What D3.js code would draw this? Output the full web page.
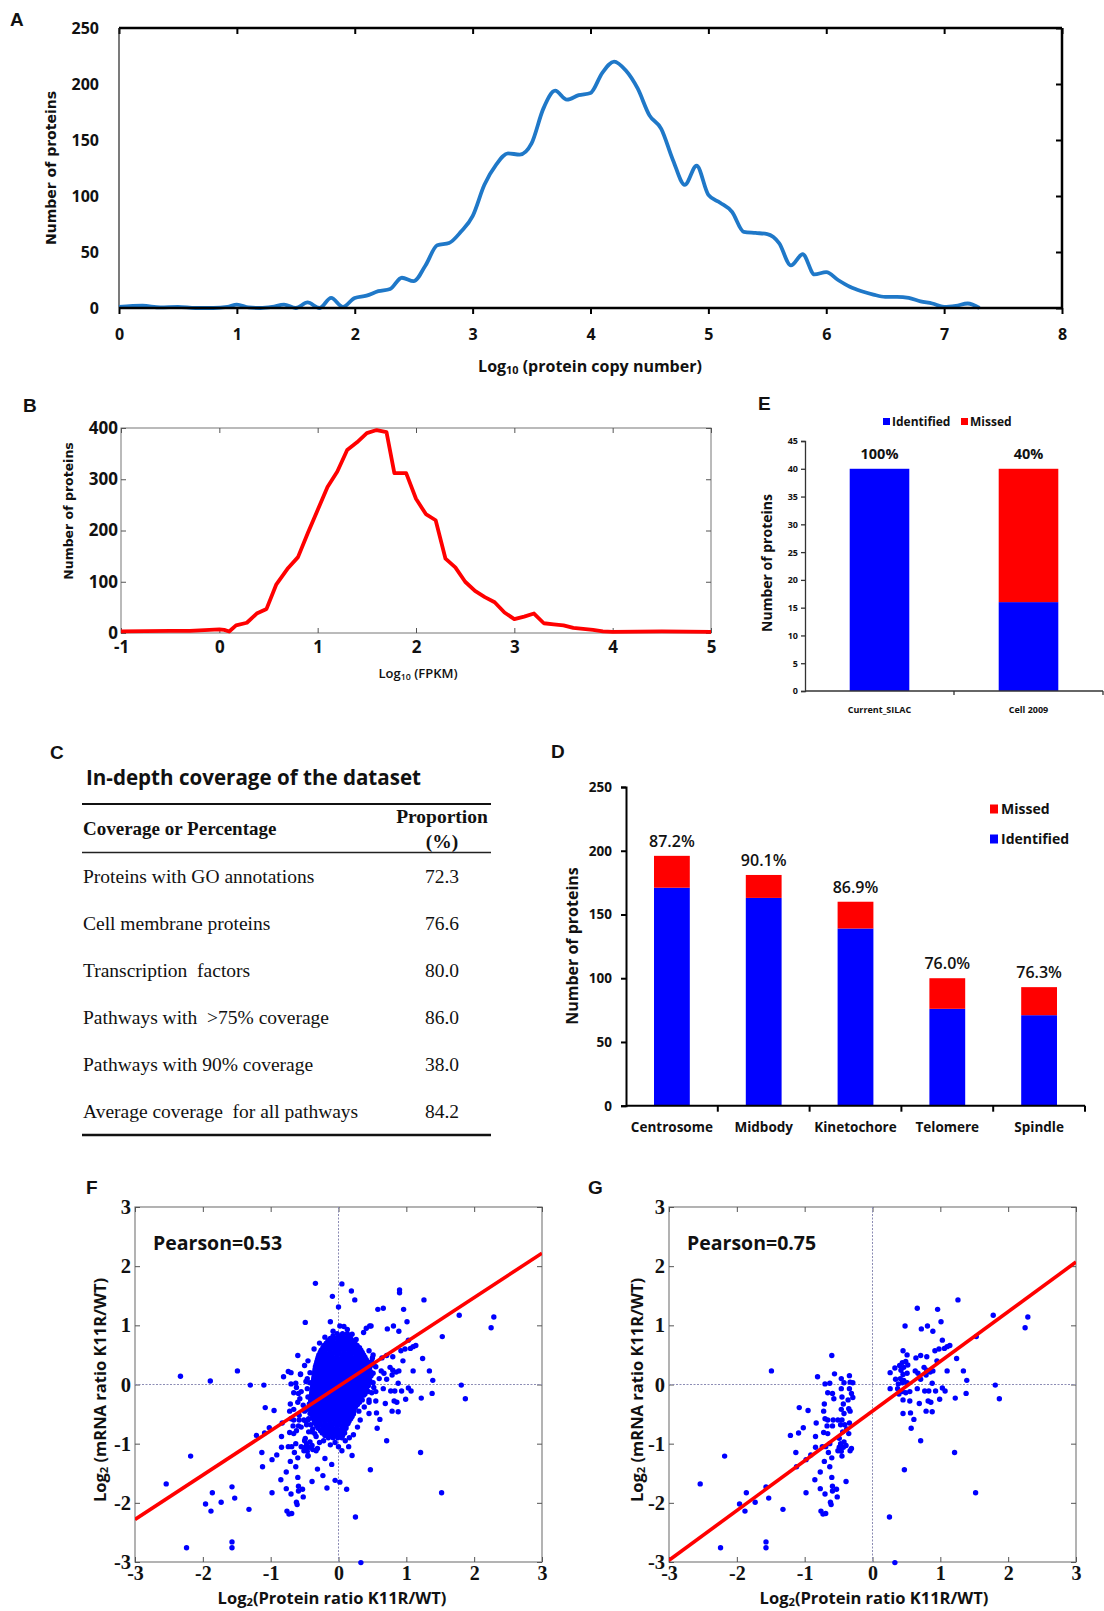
<!DOCTYPE html>
<html lang="en">
<head>
<meta charset="utf-8">
<title>Proteome coverage figure</title>
<style>
  body { margin: 0; background: #fff; }
  svg text { fill: #111; }
</style>
</head>
<body>
<svg id="fig" width="1104" height="1611"></svg>
<script src="https://d3js.org/d3.v7.min.js"></script>
<script>
// ---------- data ----------
// A: protein copy number distribution
const aCopyX = [0, 0.2, 0.35, 0.5, 0.65, 0.8, 0.92, 1.0, 1.1, 1.2, 1.3, 1.4, 1.5, 1.6, 1.7, 1.8, 1.9, 2.0,
  2.1, 2.2, 2.3, 2.4, 2.5, 2.6, 2.7, 2.8, 2.9, 3.0,
  3.1, 3.2, 3.3, 3.4, 3.5, 3.6, 3.7, 3.8, 3.9, 4.0,
  4.1, 4.2, 4.3, 4.4, 4.5, 4.6, 4.7, 4.8, 4.9, 5.0,
  5.1, 5.2, 5.3, 5.4, 5.5, 5.6, 5.7, 5.8, 5.9, 6.0,
  6.1, 6.2, 6.3, 6.4, 6.5, 6.6, 6.7, 6.8, 6.9, 7.0,
  7.1, 7.2, 7.3];
const aCount = [1, 2, 0.5, 1, 0, 0, 1, 3, 0.5, 0, 1, 3, 0, 5, 0, 9, 1, 9,
  11, 15, 17, 27, 24, 38, 56, 58, 68, 82,
  110, 128, 138, 137, 147, 178, 194, 186, 190, 192,
  210, 220, 212, 196, 172, 160, 132, 110, 127, 101,
  94, 86, 68, 67, 66, 58, 38, 48, 30, 32,
  25, 19, 15, 12, 10, 10, 9, 6, 4, 1,
  2, 4, 0];
const aTicksX = [0, 1, 2, 3, 4, 5, 6, 7, 8];
const aTicksY = [0, 50, 100, 150, 200, 250];

// B: FPKM distribution
const bFpkmX = [-1, -0.5, -0.3, 0, 0.05, 0.1, 0.17, 0.28, 0.38, 0.48,
  0.58, 0.7, 0.8, 0.9, 1.0, 1.1, 1.2, 1.3, 1.4, 1.5,
  1.6, 1.7, 1.78, 1.9, 2.0, 2.1, 2.2, 2.3, 2.4, 2.5,
  2.6, 2.7, 2.8, 2.9, 3.0, 3.1, 3.2, 3.3, 3.4, 3.5,
  3.6, 3.7, 3.8, 3.9, 4.0, 4.5, 5.0];
const bCount = [3, 4, 4, 7, 6, 3, 15, 20, 38, 47,
  95, 127, 148, 195, 240, 285, 315, 357, 372, 390,
  396, 392, 312, 312, 262, 232, 220, 145, 128, 100,
  82, 70, 60, 40, 27, 32, 38, 19, 17, 15,
  10, 8, 6, 3, 2, 3, 2];
const bTicksX = [-1, 0, 1, 2, 3, 4, 5];
const bTicksY = [0, 100, 200, 300, 400];

// C: coverage table
const cRows = ["Proteins with GO annotations", "Cell membrane proteins", "Transcription  factors",
  "Pathways with  >75% coverage", "Pathways with 90% coverage", "Average coverage  for all pathways"];
const cValues = ["72.3", "76.6", "80.0", "86.0", "38.0", "84.2"];

// D: mitotic structures
const dCategories = ["Centrosome", "Midbody", "Kinetochore", "Telomere", "Spindle"];
const dIdentified = [171, 163, 139, 76, 71];
const dMissed = [25, 18, 21, 24, 22];
const dPercent = ["87.2%", "90.1%", "86.9%", "76.0%", "76.3%"];
const dTicksY = [0, 50, 100, 150, 200, 250];

// E: comparison with Cell 2009
const eCategories = ["Current_SILAC", "Cell 2009"];
const eIdentified = [40, 16];
const eMissed = [0, 24];
const ePercent = ["100%", "40%"];
const eTicksY = [0, 5, 10, 15, 20, 25, 30, 35, 40, 45];

// F/G: protein vs mRNA ratios
const scatterTicks = [-3, -2, -1, 0, 1, 2, 3];
const fitF = [0.75, -0.03];   // slope, intercept
const fitG = [0.84, -0.45];
const pearsonF = "Pearson=0.53";
const pearsonG = "Pearson=0.75";

// points shown in both F and G
const gPoints = [
  [-2.54,-1.68],[-2.18,-1.21],[-2.24,-2.76],[-1.49,0.23],[-1.96,-2.02],[-1.86,-1.83],[-1.88,-2.14],[-1.73,-1.99],
  [-1.57,-1.73],[-1.53,-1.92],[-1.57,-2.66],[-1.57,-2.76],[-1.32,-2.11],[-1.21,-0.86],[-1.13,-1.15],[-1.12,-1.39],
  [-1.08,-0.39],[-1.09,-0.82],[-1.02,-0.73],[-0.95,-0.44],[-0.98,-1.27],[-0.98,-1.83],[-0.91,-1.19],[-0.85,-1.61],
  [-0.81,0.13],[-0.83,-0.65],[-0.84,-0.88],[-0.84,-1.06],[-0.77,-1.48],[-0.77,-1.76],[-0.76,-2.14],[-0.73,-2.19],
  [-0.69,-2.18],[-0.70,-1.85],[-0.60,0.49],[-0.56,0.18],[-0.70,0.01],[-0.63,0.02],[-0.66,-0.14],[-0.59,-0.15],
  [-0.57,-0.24],[-0.71,-0.33],[-0.72,-0.45],[-0.70,-0.58],[-0.66,-0.60],[-0.58,-0.60],[-0.51,-0.60],[-0.45,-0.60],
  [-0.67,-0.70],[-0.59,-0.70],[-0.72,-0.81],[-0.66,-0.83],[-0.74,-1.05],[-0.69,-1.05],[-0.63,-1.00],[-0.65,-1.15],
  [-0.71,-1.30],[-0.60,-1.24],[-0.63,-1.39],[-0.60,-1.57],[-0.59,-1.72],[-0.53,-1.77],[-0.59,-1.80],[-0.52,-1.90],
  [-0.62,-1.99],[-0.61,-2.03],[-0.46,0.10],[-0.46,-0.07],[-0.45,-0.21],[-0.42,0.03],[-0.34,0.15],[-0.33,0.04],
  [-0.29,0.03],[-0.34,-0.07],[-0.31,-0.15],[-0.29,-0.22],[-0.36,-0.26],[-0.46,-0.42],[-0.43,-0.33],[-0.35,-0.41],
  [-0.33,-0.45],[-0.42,-0.49],[-0.47,-0.68],[-0.41,-0.68],[-0.34,-0.65],[-0.38,-0.75],[-0.44,-0.80],[-0.35,-0.83],
  [-0.49,-0.91],[-0.47,-1.00],[-0.49,-1.06],[-0.42,-0.97],[-0.43,-1.06],[-0.39,-1.03],[-0.46,-1.13],[-0.45,-1.21],
  [-0.33,-1.12],[-0.31,-1.08],[-0.39,-1.64],[-0.51,-1.12],
  [1.26,1.43],[0.66,1.29],[0.96,1.27],[1.78,1.17],[2.29,1.14],[2.25,0.96],[0.48,0.99],[0.72,0.94],
  [0.81,0.99],[0.89,0.90],[1.01,1.06],[1.53,0.81],[1.03,0.75],[0.92,0.57],[0.98,0.60],[1.06,0.61],
  [1.10,0.64],[1.14,0.66],[0.45,0.57],[0.51,0.50],[0.64,0.45],[0.71,0.49],[0.80,0.47],[0.95,0.40],
  [1.24,0.44],[0.44,0.37],[0.49,0.39],[0.33,0.28],[0.26,0.20],[0.40,0.32],[0.42,0.24],[0.46,0.29],
  [0.52,0.33],[0.51,0.19],[0.45,0.17],[0.63,0.23],[0.67,0.19],[0.76,0.29],[0.80,0.24],[0.85,0.21],
  [0.89,0.23],[0.79,0.16],[0.71,0.09],[1.10,0.23],[1.34,0.23],[1.39,0.07],[0.34,0.09],[0.41,0.10],
  [0.46,0.07],[0.38,0.01],[0.44,0.03],[0.51,0.03],[0.26,-0.07],[0.37,-0.07],[0.39,-0.16],[0.44,-0.12],
  [0.49,-0.14],[0.55,-0.12],[0.66,-0.07],[0.77,-0.11],[0.83,-0.11],[0.88,0.02],[0.93,-0.11],[1.03,-0.06],
  [1.07,-0.11],[1.38,-0.15],[1.81,-0.01],[1.87,-0.24],[1.22,-0.23],[0.45,-0.26],[0.55,-0.28],[0.69,-0.32],
  [0.82,-0.28],[0.86,-0.30],[0.99,-0.25],[0.79,-0.45],[0.88,-0.46],[0.45,-0.49],[0.56,-0.48],[0.61,-0.59],
  [0.57,-0.74],[0.71,-0.95],[1.21,-1.15],[0.47,-1.44],[1.52,-1.83],[0.25,-2.24],[0.33,-3.01]
];

// scattered points only in F
const fOnlyPoints = [
  [-0.34,1.71],[-0.09,1.49],[0.05,1.70],[0.19,1.58],[0.24,1.43],[0.00,1.31],[0.90,1.60],[0.90,1.55],
  [0.58,1.27],[-0.49,1.05],[-0.12,1.06],[0.02,0.99],[0.08,0.98],[0.13,0.93],[-0.08,0.90],[0.20,0.85],
  [-0.20,0.80],[0.26,0.76],[0.41,0.95],[0.46,0.99],[0.37,0.88],[-0.28,0.70],[-0.36,0.60],[-0.50,0.32],
  [-0.70,0.20],[-0.74,0.22],[-0.56,0.17],[-0.45,0.40],[-0.42,0.20],[-0.48,0.05],[-1.30,-0.01],[-1.10,-0.01],
  [-2.33,0.14],[-1.89,0.06],[-0.62,-0.05],[-0.55,-0.12],[-0.60,-0.30],[-0.52,-0.35],[-0.66,-0.42],[-0.58,-0.52],
  [-0.50,-0.45],[-0.48,-0.62],[-0.55,-0.72],[-0.62,-0.78],[-0.50,-0.95],[-0.55,-1.05],[-0.45,-1.20],[-0.38,-1.10],
  [-0.31,-1.43],[-0.23,-1.54],[-0.17,-1.75],[-0.28,-0.98],[-0.20,-1.25],[-0.10,-1.35],[-0.05,-1.62],[0.02,-1.65],
  [0.12,-1.77],[-0.33,-0.88],[-0.22,-0.95],[-0.12,-1.02],[0.00,-1.05],[0.05,-1.12],[0.15,-1.05],[0.20,-1.20],
  [0.10,-0.95],[0.22,-0.85],[0.28,-0.72],[0.32,-0.60],[0.30,-0.45],[0.38,-0.38],[0.45,-0.30],[0.50,0.45],
  [0.48,0.15],[0.52,-0.05],[0.55,0.30],[0.60,0.10],[-0.05,-0.98],[-0.15,-0.86],[0.16,-0.90],[-0.40,-0.80],
  [-0.44,-0.58]
];

// dense core of F, read row by row: [mRNA ratio, protein ratios...]
const fCoreRows = [
  [0.86, [-0.02, 0.06, 0.13]],
  [0.82, [-0.08, 0.00, 0.07, 0.14]],
  [0.78, [-0.12, -0.04, 0.03, 0.10, 0.18]],
  [0.74, [-0.155, -0.085, -0.005, 0.065, 0.135, 0.21]],
  [0.70, [-0.18, -0.11, -0.04, 0.03, 0.10, 0.17, 0.24]],
  [0.66, [-0.215, -0.145, -0.075, -0.005, 0.065, 0.135, 0.205, 0.275]],
  [0.62, [-0.23, -0.16, -0.09, -0.02, 0.05, 0.12, 0.19, 0.26, 0.31]],
  [0.58, [-0.255, -0.195, -0.125, -0.055, 0.015, 0.085, 0.155, 0.225, 0.285, 0.33]],
  [0.54, [-0.27, -0.20, -0.13, -0.06, 0.01, 0.08, 0.15, 0.22, 0.29, 0.35]],
  [0.50, [-0.29, -0.235, -0.165, -0.095, -0.025, 0.045, 0.115, 0.185, 0.255, 0.32, 0.37]],
  [0.46, [-0.30, -0.23, -0.16, -0.09, -0.02, 0.05, 0.12, 0.19, 0.26, 0.33, 0.39]],
  [0.42, [-0.31, -0.265, -0.195, -0.125, -0.055, 0.015, 0.085, 0.155, 0.225, 0.295, 0.36, 0.41]],
  [0.38, [-0.32, -0.25, -0.18, -0.11, -0.04, 0.03, 0.10, 0.17, 0.24, 0.31, 0.38, 0.43]],
  [0.34, [-0.33, -0.285, -0.215, -0.145, -0.075, -0.005, 0.065, 0.135, 0.205, 0.275, 0.345, 0.40]],
  [0.30, [-0.34, -0.27, -0.20, -0.13, -0.06, 0.01, 0.08, 0.15, 0.22, 0.29, 0.36, 0.42]],
  [0.26, [-0.345, -0.305, -0.235, -0.165, -0.095, -0.025, 0.045, 0.115, 0.185, 0.255, 0.325, 0.39, 0.44]],
  [0.22, [-0.35, -0.28, -0.21, -0.14, -0.07, 0.00, 0.07, 0.14, 0.21, 0.28, 0.35, 0.42, 0.47]],
  [0.18, [-0.355, -0.315, -0.245, -0.175, -0.105, -0.035, 0.035, 0.105, 0.175, 0.245, 0.315, 0.385, 0.45]],
  [0.14, [-0.36, -0.29, -0.22, -0.15, -0.08, -0.01, 0.06, 0.13, 0.20, 0.27, 0.34, 0.41, 0.47]],
  [0.10, [-0.365, -0.325, -0.255, -0.185, -0.115, -0.045, 0.025, 0.095, 0.165, 0.235, 0.305, 0.375, 0.44]],
  [0.06, [-0.37, -0.30, -0.23, -0.16, -0.09, -0.02, 0.05, 0.12, 0.19, 0.26, 0.33, 0.40, 0.45]],
  [0.02, [-0.375, -0.335, -0.265, -0.195, -0.125, -0.055, 0.015, 0.085, 0.155, 0.225, 0.295, 0.365, 0.43]],
  [-0.02, [-0.38, -0.31, -0.24, -0.17, -0.10, -0.03, 0.04, 0.11, 0.18, 0.25, 0.32, 0.39, 0.44]],
  [-0.06, [-0.385, -0.345, -0.275, -0.205, -0.135, -0.065, 0.005, 0.075, 0.145, 0.215, 0.285, 0.355, 0.41]],
  [-0.10, [-0.39, -0.32, -0.25, -0.18, -0.11, -0.04, 0.03, 0.10, 0.17, 0.24, 0.31, 0.38, 0.42]],
  [-0.14, [-0.395, -0.355, -0.285, -0.215, -0.145, -0.075, -0.005, 0.065, 0.135, 0.205, 0.275, 0.345, 0.39]],
  [-0.18, [-0.40, -0.33, -0.26, -0.19, -0.12, -0.05, 0.02, 0.09, 0.16, 0.23, 0.30, 0.37]],
  [-0.22, [-0.405, -0.365, -0.295, -0.225, -0.155, -0.085, -0.015, 0.055, 0.125, 0.195, 0.265, 0.33]],
  [-0.26, [-0.41, -0.34, -0.27, -0.20, -0.13, -0.06, 0.01, 0.08, 0.15, 0.22, 0.29, 0.35]],
  [-0.30, [-0.41, -0.375, -0.305, -0.235, -0.165, -0.095, -0.025, 0.045, 0.115, 0.185, 0.255, 0.31]],
  [-0.34, [-0.41, -0.34, -0.27, -0.20, -0.13, -0.06, 0.01, 0.08, 0.15, 0.22, 0.28]],
  [-0.38, [-0.405, -0.375, -0.305, -0.235, -0.165, -0.095, -0.025, 0.045, 0.115, 0.185, 0.25]],
  [-0.42, [-0.40, -0.33, -0.26, -0.19, -0.12, -0.05, 0.02, 0.09, 0.16, 0.23]],
  [-0.46, [-0.395, -0.365, -0.295, -0.225, -0.155, -0.085, -0.015, 0.055, 0.125, 0.195, 0.22]],
  [-0.50, [-0.39, -0.32, -0.25, -0.18, -0.11, -0.04, 0.03, 0.10, 0.17, 0.22]],
  [-0.54, [-0.38, -0.355, -0.285, -0.215, -0.145, -0.075, -0.005, 0.065, 0.135, 0.20]],
  [-0.58, [-0.37, -0.30, -0.23, -0.16, -0.09, -0.02, 0.05, 0.12, 0.18]],
  [-0.62, [-0.355, -0.335, -0.265, -0.195, -0.125, -0.055, 0.015, 0.085, 0.155]],
  [-0.66, [-0.34, -0.27, -0.20, -0.13, -0.06, 0.01, 0.08, 0.14]],
  [-0.70, [-0.32, -0.305, -0.235, -0.165, -0.095, -0.025, 0.045, 0.11]],
  [-0.74, [-0.30, -0.23, -0.16, -0.09, -0.02, 0.05, 0.11]],
  [-0.78, [-0.265, -0.195, -0.125, -0.055, 0.015, 0.08]],
  [-0.82, [-0.24, -0.17, -0.10, -0.03, 0.04, 0.09]],
  [-0.86, [-0.20, -0.135, -0.065, 0.005, 0.06]],
  [-0.90, [-0.15, -0.08, -0.01, 0.05]]
];

// ---------- drawing ----------
const SANS = "'Open Sans', 'Liberation Sans', sans-serif";
const VERD = "'DejaVu Sans', Verdana, sans-serif";
const SERIF = "'Liberation Serif', 'DejaVu Serif', serif";
const svg = d3.select("#fig").attr("font-family", SANS);
const BLUE = "#0000ff", RED = "#ff0000";
const plain = d => String(d);

function fontAxis(g, size, weight, family) {
  g.attr("font-size", null).attr("font-family", null);
  g.selectAll("text").attr("font-size", size).attr("font-weight", weight)
    .attr("font-family", family).attr("fill", "#111");
}

function letter(t, x, y) {
  svg.append("text").attr("x", x).attr("y", y).text(t)
    .attr("font-size", 19).attr("font-weight", 700).attr("font-family", "'Liberation Sans', Arial, sans-serif");
}

function subLabel(sel, pre, sub, post) {
  sel.append("tspan").text(pre);
  sel.append("tspan").text(sub).attr("font-size", "0.68em").attr("baseline-shift", "-18%");
  sel.append("tspan").text(post);
}

// ===== Panel A =====
(function () {
  const g = svg.append("g");
  const x = d3.scaleLinear().domain([0, 8]).range([119, 1062]);
  const y = d3.scaleLinear().domain([0, 250]).range([308, 28]);

  g.append("g").attr("transform", "translate(0,308)")
    .call(d3.axisBottom(x).tickValues(aTicksX).tickFormat(plain).tickSize(6).tickPadding(15))
    .call(a => a.select(".domain").remove())
    .call(a => a.selectAll("line").attr("stroke", "#000").attr("stroke-width", 2))
    .call(a => fontAxis(a, 16, 700, SANS));
  g.append("g").attr("transform", "translate(119,0)")
    .call(d3.axisLeft(y).tickValues(aTicksY).tickFormat(plain).tickSize(0).tickPadding(20))
    .call(a => a.select(".domain").remove())
    .call(a => fontAxis(a, 16, 700, SANS));
  g.append("g").attr("transform", "translate(0,28)")
    .call(d3.axisTop(x).tickValues(aTicksX).tickSize(-6).tickFormat(""))
    .call(a => a.select(".domain").remove())
    .call(a => a.selectAll("line").attr("stroke", "#000").attr("stroke-width", 2));
  g.append("g").attr("transform", "translate(1062,0)")
    .call(d3.axisRight(y).tickValues(aTicksY).tickSize(-6).tickFormat(""))
    .call(a => a.select(".domain").remove())
    .call(a => a.selectAll("line").attr("stroke", "#000").attr("stroke-width", 2));

  // frame
  g.append("line").attr("x1", 119).attr("x2", 1062).attr("y1", 28).attr("y2", 28).attr("stroke", "#000").attr("stroke-width", 2.5);
  g.append("line").attr("x1", 1062).attr("x2", 1062).attr("y1", 28).attr("y2", 308).attr("stroke", "#000").attr("stroke-width", 2.5);
  g.append("line").attr("x1", 119).attr("x2", 119).attr("y1", 28).attr("y2", 308).attr("stroke", "#222").attr("stroke-width", 1.2);

  const line = d3.line().x((d, i) => x(aCopyX[i])).y(d => y(d)).curve(d3.curveMonotoneX);
  g.append("path").attr("d", line(aCount)).attr("fill", "none")
    .attr("stroke", "#1f78c8").attr("stroke-width", 3.8);
  g.append("line").attr("x1", 119).attr("x2", 1062).attr("y1", 308).attr("y2", 308).attr("stroke", "#000").attr("stroke-width", 2.5);

  const t = g.append("text").attr("x", 590).attr("y", 372).attr("text-anchor", "middle")
    .attr("font-size", 16).attr("font-weight", 700);
  subLabel(t, "Log", "10", " (protein copy number)");
  g.append("text").attr("transform", "translate(51,168) rotate(-90)").attr("text-anchor", "middle")
    .attr("dy", "0.35em").attr("font-family", VERD).attr("font-size", 14).attr("font-weight", 700)
    .text("Number of proteins");
})();
letter("A", 10, 26);

// ===== Panel B =====
(function () {
  const g = svg.append("g");
  const L = 121, R = 711, T = 428, B = 633;
  const x = d3.scaleLinear().domain([-1, 5]).range([L, R]);
  const y = d3.scaleLinear().domain([0, 400]).range([B, T]);

  g.append("rect").attr("x", L).attr("y", T).attr("width", R - L).attr("height", B - T)
    .attr("fill", "#fff").attr("stroke", "#777").attr("stroke-width", 1);
  const tickGrey = a => a.selectAll("line").attr("stroke", "#555");
  g.append("g").attr("transform", `translate(0,${B})`)
    .call(d3.axisBottom(x).tickValues(bTicksX).tickFormat(plain).tickSize(-5).tickPadding(8))
    .call(a => a.select(".domain").remove()).call(tickGrey)
    .call(a => fontAxis(a, 17, 700, SANS));
  g.append("g").attr("transform", `translate(${L},0)`)
    .call(d3.axisLeft(y).tickValues(bTicksY).tickFormat(plain).tickSize(-5).tickPadding(3))
    .call(a => a.select(".domain").remove()).call(tickGrey)
    .call(a => fontAxis(a, 17, 700, SANS));
  g.append("g").attr("transform", `translate(0,${T})`)
    .call(d3.axisTop(x).tickValues(bTicksX).tickSize(-5).tickFormat(""))
    .call(a => a.select(".domain").remove()).call(tickGrey);
  g.append("g").attr("transform", `translate(${R},0)`)
    .call(d3.axisRight(y).tickValues(bTicksY).tickSize(-5).tickFormat(""))
    .call(a => a.select(".domain").remove()).call(tickGrey);

  const line = d3.line().x((d, i) => x(bFpkmX[i])).y(d => y(d));
  g.append("path").attr("d", line(bCount)).attr("fill", "none")
    .attr("stroke", RED).attr("stroke-width", 3.8).attr("stroke-linejoin", "round");

  const t = g.append("text").attr("x", 418).attr("y", 678).attr("text-anchor", "middle")
    .attr("font-size", 13).attr("font-weight", 600);
  subLabel(t, "Log", "10", " (FPKM)");
  g.append("text").attr("transform", "translate(69,511) rotate(-90)").attr("text-anchor", "middle")
    .attr("dy", "0.35em").attr("font-family", VERD).attr("font-size", 12.5).attr("font-weight", 700)
    .text("Number of proteins");
})();
letter("B", 23, 412);

// ===== Panel E =====
(function () {
  const g = svg.append("g");
  const L = 805, R = 1103, T = 441, B = 691;
  const x = d3.scaleBand().domain(eCategories).range([L, R]);
  const y = d3.scaleLinear().domain([0, 45]).range([B, T]);
  const bw = x.bandwidth() * 0.4, off = x.bandwidth() * 0.3;

  eCategories.forEach((c, i) => {
    g.append("rect").attr("x", x(c) + off).attr("width", bw)
      .attr("y", y(eIdentified[i])).attr("height", B - y(eIdentified[i])).attr("fill", BLUE);
    if (eMissed[i] > 0) {
      g.append("rect").attr("x", x(c) + off).attr("width", bw)
        .attr("y", y(eIdentified[i] + eMissed[i])).attr("height", y(eIdentified[i]) - y(eIdentified[i] + eMissed[i]))
        .attr("fill", RED);
    }
    g.append("text").attr("x", x(c) + x.bandwidth() / 2).attr("y", y(eIdentified[i] + eMissed[i]) - 10)
      .attr("text-anchor", "middle").attr("font-size", 14.5).attr("font-weight", 700).text(ePercent[i]);
  });

  g.append("g").attr("transform", `translate(${L},0)`)
    .call(d3.axisLeft(y).tickValues(eTicksY).tickFormat(plain).tickSize(4).tickPadding(3))
    .call(a => a.selectAll("line,path").attr("stroke", "#333").attr("stroke-width", 1.3))
    .call(a => fontAxis(a, 9, 700, SANS));
  g.append("g").attr("transform", `translate(0,${B})`)
    .call(d3.axisBottom(x).tickSize(0).tickPadding(16))
    .call(a => a.select(".domain").attr("d", `M${L},0H${R}`).attr("stroke", "#333").attr("stroke-width", 1.3))
    .call(a => fontAxis(a, 9, 700, SANS));
  // category boundary ticks
  g.selectAll(".etick").data(eCategories.slice(1).concat(["end"])).join("line")
    .attr("x1", d => d === "end" ? R : x(d)).attr("x2", d => d === "end" ? R : x(d))
    .attr("y1", B).attr("y2", B + 4).attr("stroke", "#333").attr("stroke-width", 1.3);

  // legend
  const leg = [["Identified", BLUE, 883], ["Missed", RED, 961]];
  leg.forEach(l => {
    g.append("rect").attr("x", l[2]).attr("y", 418).attr("width", 7).attr("height", 7).attr("fill", l[1]);
    g.append("text").attr("x", l[2] + 9).attr("y", 426).attr("font-size", 12).attr("font-weight", 700).text(l[0]);
  });
  g.append("text").attr("transform", "translate(767,563) rotate(-90)").attr("text-anchor", "middle")
    .attr("dy", "0.35em").attr("font-size", 14).attr("font-weight", 700).text("Number of proteins");
})();
letter("E", 758, 410);

// ===== Panel C =====
(function () {
  const g = svg.append("g");
  const rowY = d3.scalePoint().domain(cRows).range([883, 1118]);
  g.append("text").attr("x", 86).attr("y", 785).attr("font-size", 22).attr("font-weight", 700)
    .attr("textLength", 335).attr("lengthAdjust", "spacingAndGlyphs").text("In-depth coverage of the dataset");
  g.append("line").attr("x1", 82).attr("x2", 491).attr("y1", 804).attr("y2", 804).attr("stroke", "#111").attr("stroke-width", 2.2);
  g.append("line").attr("x1", 82).attr("x2", 491).attr("y1", 852.5).attr("y2", 852.5).attr("stroke", "#222").attr("stroke-width", 1.4);
  g.append("line").attr("x1", 82).attr("x2", 491).attr("y1", 1135).attr("y2", 1135).attr("stroke", "#111").attr("stroke-width", 2.6);
  g.append("text").attr("x", 83).attr("y", 835).attr("font-family", SERIF).attr("font-size", 19)
    .attr("font-weight", 700).text("Coverage or Percentage");
  g.append("text").attr("x", 442).attr("y", 823).attr("text-anchor", "middle").attr("font-family", SERIF)
    .attr("font-size", 19.5).attr("font-weight", 700).text("Proportion");
  g.append("text").attr("x", 442).attr("y", 848).attr("text-anchor", "middle").attr("font-family", SERIF)
    .attr("font-size", 19.5).attr("font-weight", 700).text("(%)");
  g.selectAll(".crow").data(cRows).join("text")
    .attr("x", 83).attr("y", d => rowY(d)).attr("font-family", SERIF).attr("font-size", 19.5)
    .style("white-space", "pre").text(d => d);
  g.selectAll(".cval").data(cValues).join("text")
    .attr("x", 442).attr("y", (d, i) => rowY(cRows[i])).attr("text-anchor", "middle")
    .attr("font-family", SERIF).attr("font-size", 19.5).text(d => d);
})();
letter("C", 50, 759);

// ===== Panel D =====
(function () {
  const g = svg.append("g");
  const L = 626, R = 1085, T = 787, B = 1105.7;
  const x = d3.scaleBand().domain(dCategories).range([L, R]);
  const y = d3.scaleLinear().domain([0, 250]).range([B, T]);
  const bw = x.bandwidth() * 0.39, off = x.bandwidth() * 0.305;

  dCategories.forEach((c, i) => {
    const tot = dIdentified[i] + dMissed[i];
    g.append("rect").attr("x", x(c) + off).attr("width", bw)
      .attr("y", y(dIdentified[i])).attr("height", B - y(dIdentified[i])).attr("fill", BLUE);
    g.append("rect").attr("x", x(c) + off).attr("width", bw)
      .attr("y", y(tot)).attr("height", y(dIdentified[i]) - y(tot)).attr("fill", RED);
    g.append("text").attr("x", x(c) + off + bw / 2).attr("y", y(tot) - 9)
      .attr("text-anchor", "middle").attr("font-size", 16).attr("font-weight", 600).text(dPercent[i]);
  });

  g.append("g").attr("transform", `translate(${L},0)`)
    .call(d3.axisLeft(y).tickValues(dTicksY).tickFormat(plain).tickSize(5).tickPadding(9))
    .call(a => a.selectAll("line,path").attr("stroke", "#000").attr("stroke-width", 2))
    .call(a => fontAxis(a, 13.5, 700, SANS));
  g.append("g").attr("transform", `translate(0,${B})`)
    .call(d3.axisBottom(x).tickSize(0).tickPadding(17))
    .call(a => a.select(".domain").attr("d", `M${L},0H${R}`).attr("stroke", "#000").attr("stroke-width", 2))
    .call(a => fontAxis(a, 13.5, 700, SANS));
  g.selectAll(".dtick").data(dCategories.slice(1).concat(["end"])).join("line")
    .attr("x1", d => d === "end" ? R : x(d)).attr("x2", d => d === "end" ? R : x(d))
    .attr("y1", B).attr("y2", B + 6).attr("stroke", "#000").attr("stroke-width", 2);

  const leg = [["Missed", RED, 809], ["Identified", BLUE, 839]];
  leg.forEach(l => {
    g.append("rect").attr("x", 990).attr("y", l[2] - 4.5).attr("width", 8).attr("height", 9).attr("fill", l[1]);
    g.append("text").attr("x", 1001).attr("y", l[2] + 5).attr("font-size", 14).attr("font-weight", 700).text(l[0]);
  });
  g.append("text").attr("transform", "translate(572,946) rotate(-90)").attr("text-anchor", "middle")
    .attr("dy", "0.35em").attr("font-size", 16).attr("font-weight", 700).text("Number of proteins");
})();
letter("D", 551, 758);

// ===== Panels F and G =====
function scatterPanel(L, R, pts, fit, pearson, yTitleX, xTitleX) {
  const T = 1207, B = 1562;
  const g = svg.append("g");
  const x = d3.scaleLinear().domain([-3, 3]).range([L, R]);
  const y = d3.scaleLinear().domain([-3, 3]).range([B, T]);
  const clipId = "clip" + L;
  g.append("clipPath").attr("id", clipId).append("rect")
    .attr("x", L).attr("y", T).attr("width", R - L).attr("height", B - T);

  g.append("rect").attr("x", L).attr("y", T).attr("width", R - L).attr("height", B - T)
    .attr("fill", "#fff").attr("stroke", "#808080").attr("stroke-width", 1.2);
  const grey = a => a.selectAll("line").attr("stroke", "#555");
  g.append("g").attr("transform", `translate(0,${B})`)
    .call(d3.axisBottom(x).tickValues(scatterTicks).tickFormat(plain).tickSize(-5).tickPadding(4))
    .call(a => a.select(".domain").remove()).call(grey)
    .call(a => fontAxis(a, 20, 700, SERIF));
  g.append("g").attr("transform", `translate(${L},0)`)
    .call(d3.axisLeft(y).tickValues(scatterTicks).tickFormat(plain).tickSize(-5).tickPadding(4))
    .call(a => a.select(".domain").remove()).call(grey)
    .call(a => fontAxis(a, 20.5, 700, SERIF));
  g.append("g").attr("transform", `translate(0,${T})`)
    .call(d3.axisTop(x).tickValues(scatterTicks).tickSize(-5).tickFormat(""))
    .call(a => a.select(".domain").remove()).call(grey);
  g.append("g").attr("transform", `translate(${R},0)`)
    .call(d3.axisRight(y).tickValues(scatterTicks).tickSize(-5).tickFormat(""))
    .call(a => a.select(".domain").remove()).call(grey);

  // zero reference lines
  g.append("line").attr("x1", x(0)).attr("x2", x(0)).attr("y1", T).attr("y2", B)
    .attr("stroke", "#8c8cb4").attr("stroke-width", 1).attr("stroke-dasharray", "2,1.5");
  g.append("line").attr("x1", L).attr("x2", R).attr("y1", y(0)).attr("y2", y(0))
    .attr("stroke", "#8c8cb4").attr("stroke-width", 1).attr("stroke-dasharray", "2,1.5");

  g.append("g").selectAll("circle").data(pts).join("circle")
    .attr("cx", d => x(d[0])).attr("cy", d => y(d[1])).attr("r", 2.7).attr("fill", BLUE);

  g.append("line").attr("clip-path", `url(#${clipId})`)
    .attr("x1", x(-3)).attr("y1", y(fit[0] * -3 + fit[1]))
    .attr("x2", x(3)).attr("y2", y(fit[0] * 3 + fit[1]))
    .attr("stroke", RED).attr("stroke-width", 3.6);

  g.append("text").attr("x", L + 18).attr("y", 1250).attr("font-size", 19.5).attr("font-weight", 700).text(pearson);

  const xt = g.append("text").attr("x", xTitleX).attr("y", 1604).attr("text-anchor", "middle")
    .attr("font-size", 16.5).attr("font-weight", 700);
  subLabel(xt, "Log", "2", "(Protein ratio K11R/WT)");
  const yt = g.append("text").attr("transform", `translate(${yTitleX},1390) rotate(-90)`)
    .attr("text-anchor", "middle").attr("dy", "0.35em").attr("font-size", 16.5).attr("font-weight", 700);
  subLabel(yt, "Log", "2", " (mRNA ratio K11R/WT)");
}

const fCorePoints = [];
fCoreRows.forEach(r => r[1].forEach(px => fCorePoints.push([px, r[0]])));
scatterPanel(135, 542, fCorePoints.concat(fOnlyPoints, gPoints), fitF, pearsonF, 100, 332);
scatterPanel(669, 1076, gPoints, fitG, pearsonG, 637, 874);
letter("F", 86, 1194);
letter("G", 588, 1194);
</script>
</body>
</html>
